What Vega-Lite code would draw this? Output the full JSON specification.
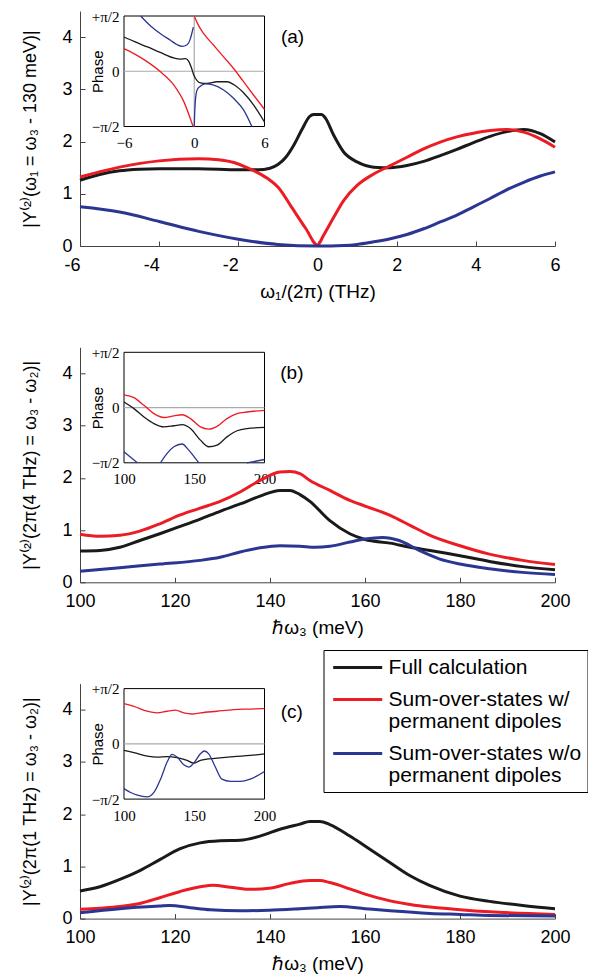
{
  "$schema": "https://vega.github.io/schema/vega-lite/v6.json",
  "background": "white",
  "padding": {"left": 21, "top": 9, "right": 0, "bottom": 0},
  "config": {
    "view": {"stroke": null},
    "font": "Liberation Sans",
    "axis": {"grid": false, "labelFont": "Liberation Sans", "titleFont": "Liberation Sans", "labelFontSize": 18, "titleFontSize": 18, "titleFontWeight": "normal", "labelColor": "black", "titleColor": "black", "domainColor": "#444444", "tickColor": "#444444", "labelFlush": false, "tickSize": -5, "labelPadding": 13, "labelOverlap": false},
    "axisX": {"labelPadding": 15, "titlePadding": 8, "titleFontSize": 19, "labelExpr": "replace(datum.label, '−', '-')"},
    "axisY": {"titlePadding": 22.5},
    "style": {"guide-label": {"lineHeight": 22}}
  },
  "datasets": {
    "mainA": [
      {"x": -6, "y": 1.26, "s": "Full calculation"}, {"x": -5.5, "y": 1.37, "s": "Full calculation"}, {"x": -5, "y": 1.44, "s": "Full calculation"}, {"x": -4.5, "y": 1.47, "s": "Full calculation"}, {"x": -4, "y": 1.48, "s": "Full calculation"}, {"x": -3, "y": 1.48, "s": "Full calculation"}, {"x": -2, "y": 1.46, "s": "Full calculation"}, {"x": -1.5, "y": 1.46, "s": "Full calculation"}, {"x": -1.2, "y": 1.49, "s": "Full calculation"}, {"x": -1, "y": 1.56, "s": "Full calculation"}, {"x": -0.8, "y": 1.7, "s": "Full calculation"}, {"x": -0.6, "y": 1.93, "s": "Full calculation"}, {"x": -0.4, "y": 2.22, "s": "Full calculation"}, {"x": -0.2, "y": 2.48, "s": "Full calculation"}, {"x": -0.1, "y": 2.52, "s": "Full calculation"}, {"x": 0.1, "y": 2.52, "s": "Full calculation"}, {"x": 0.2, "y": 2.45, "s": "Full calculation"}, {"x": 0.41, "y": 2.12, "s": "Full calculation"}, {"x": 0.66, "y": 1.8, "s": "Full calculation"}, {"x": 1, "y": 1.61, "s": "Full calculation"}, {"x": 1.42, "y": 1.51, "s": "Full calculation"}, {"x": 1.84, "y": 1.5, "s": "Full calculation"}, {"x": 2.26, "y": 1.54, "s": "Full calculation"}, {"x": 2.68, "y": 1.62, "s": "Full calculation"}, {"x": 3.1, "y": 1.73, "s": "Full calculation"}, {"x": 3.52, "y": 1.85, "s": "Full calculation"}, {"x": 3.94, "y": 1.98, "s": "Full calculation"}, {"x": 4.36, "y": 2.1, "s": "Full calculation"}, {"x": 4.79, "y": 2.19, "s": "Full calculation"}, {"x": 5.21, "y": 2.23, "s": "Full calculation"}, {"x": 5.63, "y": 2.15, "s": "Full calculation"}, {"x": 6, "y": 1.99, "s": "Full calculation"},
      {"x": -6, "y": 1.32, "s": "Sum-over-states w/ permanent dipoles"}, {"x": -5, "y": 1.51, "s": "Sum-over-states w/ permanent dipoles"}, {"x": -4, "y": 1.63, "s": "Sum-over-states w/ permanent dipoles"}, {"x": -3, "y": 1.67, "s": "Sum-over-states w/ permanent dipoles"}, {"x": -2.5, "y": 1.65, "s": "Sum-over-states w/ permanent dipoles"}, {"x": -2, "y": 1.57, "s": "Sum-over-states w/ permanent dipoles"}, {"x": -1.78, "y": 1.5, "s": "Sum-over-states w/ permanent dipoles"}, {"x": -1.5, "y": 1.4, "s": "Sum-over-states w/ permanent dipoles"}, {"x": -1.2, "y": 1.26, "s": "Sum-over-states w/ permanent dipoles"}, {"x": -1, "y": 1.13, "s": "Sum-over-states w/ permanent dipoles"}, {"x": -0.66, "y": 0.75, "s": "Sum-over-states w/ permanent dipoles"}, {"x": -0.3, "y": 0.34, "s": "Sum-over-states w/ permanent dipoles"}, {"x": 0, "y": 0.02, "s": "Sum-over-states w/ permanent dipoles"}, {"x": 0.15, "y": 0.2, "s": "Sum-over-states w/ permanent dipoles"}, {"x": 0.41, "y": 0.55, "s": "Sum-over-states w/ permanent dipoles"}, {"x": 0.66, "y": 0.87, "s": "Sum-over-states w/ permanent dipoles"}, {"x": 1, "y": 1.16, "s": "Sum-over-states w/ permanent dipoles"}, {"x": 1.42, "y": 1.38, "s": "Sum-over-states w/ permanent dipoles"}, {"x": 1.84, "y": 1.54, "s": "Sum-over-states w/ permanent dipoles"}, {"x": 2.26, "y": 1.7, "s": "Sum-over-states w/ permanent dipoles"}, {"x": 2.68, "y": 1.86, "s": "Sum-over-states w/ permanent dipoles"}, {"x": 3.1, "y": 1.99, "s": "Sum-over-states w/ permanent dipoles"}, {"x": 3.52, "y": 2.09, "s": "Sum-over-states w/ permanent dipoles"}, {"x": 3.94, "y": 2.16, "s": "Sum-over-states w/ permanent dipoles"}, {"x": 4.36, "y": 2.21, "s": "Sum-over-states w/ permanent dipoles"}, {"x": 4.79, "y": 2.23, "s": "Sum-over-states w/ permanent dipoles"}, {"x": 5.21, "y": 2.18, "s": "Sum-over-states w/ permanent dipoles"}, {"x": 5.63, "y": 2.05, "s": "Sum-over-states w/ permanent dipoles"}, {"x": 6, "y": 1.89, "s": "Sum-over-states w/ permanent dipoles"},
      {"x": -6, "y": 0.75, "s": "Sum-over-states w/o permanent dipoles"}, {"x": -5, "y": 0.65, "s": "Sum-over-states w/o permanent dipoles"}, {"x": -4, "y": 0.47, "s": "Sum-over-states w/o permanent dipoles"}, {"x": -3, "y": 0.28, "s": "Sum-over-states w/o permanent dipoles"}, {"x": -2, "y": 0.13, "s": "Sum-over-states w/o permanent dipoles"}, {"x": -1, "y": 0.03, "s": "Sum-over-states w/o permanent dipoles"}, {"x": 0, "y": 0, "s": "Sum-over-states w/o permanent dipoles"}, {"x": 0.66, "y": 0.01, "s": "Sum-over-states w/o permanent dipoles"}, {"x": 1, "y": 0.03, "s": "Sum-over-states w/o permanent dipoles"}, {"x": 1.42, "y": 0.08, "s": "Sum-over-states w/o permanent dipoles"}, {"x": 1.84, "y": 0.14, "s": "Sum-over-states w/o permanent dipoles"}, {"x": 2.26, "y": 0.22, "s": "Sum-over-states w/o permanent dipoles"}, {"x": 2.68, "y": 0.33, "s": "Sum-over-states w/o permanent dipoles"}, {"x": 3.1, "y": 0.46, "s": "Sum-over-states w/o permanent dipoles"}, {"x": 3.52, "y": 0.59, "s": "Sum-over-states w/o permanent dipoles"}, {"x": 3.94, "y": 0.75, "s": "Sum-over-states w/o permanent dipoles"}, {"x": 4.36, "y": 0.91, "s": "Sum-over-states w/o permanent dipoles"}, {"x": 4.79, "y": 1.08, "s": "Sum-over-states w/o permanent dipoles"}, {"x": 5.21, "y": 1.22, "s": "Sum-over-states w/o permanent dipoles"}, {"x": 5.63, "y": 1.34, "s": "Sum-over-states w/o permanent dipoles"}, {"x": 6, "y": 1.42, "s": "Sum-over-states w/o permanent dipoles"}
    ],
    "insetA": [
      {"x": -6, "p": 0.974, "s": "Full calculation", "seg": 0}, {"x": -5.15, "p": 0.848, "s": "Full calculation", "seg": 0}, {"x": -4, "p": 0.691, "s": "Full calculation", "seg": 0}, {"x": -2.9, "p": 0.534, "s": "Full calculation", "seg": 0}, {"x": -1.74, "p": 0.377, "s": "Full calculation", "seg": 0}, {"x": -1.18, "p": 0.346, "s": "Full calculation", "seg": 0}, {"x": -0.75, "p": 0.361, "s": "Full calculation", "seg": 0}, {"x": -0.47, "p": 0.283, "s": "Full calculation", "seg": 0}, {"x": -0.27, "p": 0.126, "s": "Full calculation", "seg": 0}, {"x": -0.04, "p": -0.11, "s": "Full calculation", "seg": 0}, {"x": 0.24, "p": -0.267, "s": "Full calculation", "seg": 0}, {"x": 0.52, "p": -0.33, "s": "Full calculation", "seg": 0}, {"x": 1.09, "p": -0.346, "s": "Full calculation", "seg": 0}, {"x": 1.94, "p": -0.298, "s": "Full calculation", "seg": 0}, {"x": 2.79, "p": -0.298, "s": "Full calculation", "seg": 0}, {"x": 3.36, "p": -0.377, "s": "Full calculation", "seg": 0}, {"x": 4.21, "p": -0.613, "s": "Full calculation", "seg": 0}, {"x": 5.06, "p": -0.958, "s": "Full calculation", "seg": 0}, {"x": 6, "p": -1.445, "s": "Full calculation", "seg": 0},
      {"x": -6, "p": 0.644, "s": "Sum-over-states w/ permanent dipoles", "seg": 1}, {"x": -5.15, "p": 0.503, "s": "Sum-over-states w/ permanent dipoles", "seg": 1}, {"x": -4, "p": 0.267, "s": "Sum-over-states w/ permanent dipoles", "seg": 1}, {"x": -2.88, "p": -0.016, "s": "Sum-over-states w/ permanent dipoles", "seg": 1}, {"x": -1.74, "p": -0.393, "s": "Sum-over-states w/ permanent dipoles", "seg": 1}, {"x": -0.89, "p": -0.864, "s": "Sum-over-states w/ permanent dipoles", "seg": 1}, {"x": -0.33, "p": -1.351, "s": "Sum-over-states w/ permanent dipoles", "seg": 1}, {"x": -0.1, "p": -1.5708, "s": "Sum-over-states w/ permanent dipoles", "seg": 1},
      {"x": 0, "p": 1.5708, "s": "Sum-over-states w/ permanent dipoles", "seg": 2}, {"x": 0.24, "p": 1.382, "s": "Sum-over-states w/ permanent dipoles", "seg": 2}, {"x": 0.81, "p": 1.068, "s": "Sum-over-states w/ permanent dipoles", "seg": 2}, {"x": 1.66, "p": 0.738, "s": "Sum-over-states w/ permanent dipoles", "seg": 2}, {"x": 2.51, "p": 0.408, "s": "Sum-over-states w/ permanent dipoles", "seg": 2}, {"x": 3.36, "p": 0.079, "s": "Sum-over-states w/ permanent dipoles", "seg": 2}, {"x": 4.21, "p": -0.298, "s": "Sum-over-states w/ permanent dipoles", "seg": 2}, {"x": 5.06, "p": -0.675, "s": "Sum-over-states w/ permanent dipoles", "seg": 2}, {"x": 6, "p": -1.084, "s": "Sum-over-states w/ permanent dipoles", "seg": 2},
      {"x": -4.58, "p": 1.5708, "s": "Sum-over-states w/o permanent dipoles", "seg": 3}, {"x": -3.73, "p": 1.288, "s": "Sum-over-states w/o permanent dipoles", "seg": 3}, {"x": -2.88, "p": 1.068, "s": "Sum-over-states w/o permanent dipoles", "seg": 3}, {"x": -2.03, "p": 0.88, "s": "Sum-over-states w/o permanent dipoles", "seg": 3}, {"x": -1.46, "p": 0.754, "s": "Sum-over-states w/o permanent dipoles", "seg": 3}, {"x": -1.03, "p": 0.707, "s": "Sum-over-states w/o permanent dipoles", "seg": 3}, {"x": -0.61, "p": 0.754, "s": "Sum-over-states w/o permanent dipoles", "seg": 3}, {"x": -0.33, "p": 0.927, "s": "Sum-over-states w/o permanent dipoles", "seg": 3}, {"x": -0.18, "p": 1.115, "s": "Sum-over-states w/o permanent dipoles", "seg": 3}, {"x": -0.08, "p": 1.257, "s": "Sum-over-states w/o permanent dipoles", "seg": 3},
      {"x": 0, "p": -1.5708, "s": "Sum-over-states w/o permanent dipoles", "seg": 4}, {"x": 0.03, "p": -1.25, "s": "Sum-over-states w/o permanent dipoles", "seg": 4}, {"x": 0.09, "p": -0.864, "s": "Sum-over-states w/o permanent dipoles", "seg": 4}, {"x": 0.24, "p": -0.534, "s": "Sum-over-states w/o permanent dipoles", "seg": 4}, {"x": 0.52, "p": -0.424, "s": "Sum-over-states w/o permanent dipoles", "seg": 4}, {"x": 0.95, "p": -0.361, "s": "Sum-over-states w/o permanent dipoles", "seg": 4}, {"x": 1.66, "p": -0.393, "s": "Sum-over-states w/o permanent dipoles", "seg": 4}, {"x": 2.51, "p": -0.534, "s": "Sum-over-states w/o permanent dipoles", "seg": 4}, {"x": 3.36, "p": -0.77, "s": "Sum-over-states w/o permanent dipoles", "seg": 4}, {"x": 4.21, "p": -1.1, "s": "Sum-over-states w/o permanent dipoles", "seg": 4}, {"x": 4.92, "p": -1.5708, "s": "Sum-over-states w/o permanent dipoles", "seg": 4}
    ],
    "mainB": [
      {"x": 100, "y": 0.6, "s": "Full calculation"}, {"x": 104.2, "y": 0.61, "s": "Full calculation"}, {"x": 108.4, "y": 0.67, "s": "Full calculation"}, {"x": 112.6, "y": 0.8, "s": "Full calculation"}, {"x": 116.8, "y": 0.93, "s": "Full calculation"}, {"x": 121.1, "y": 1.07, "s": "Full calculation"}, {"x": 125.3, "y": 1.21, "s": "Full calculation"}, {"x": 129.5, "y": 1.36, "s": "Full calculation"}, {"x": 133.7, "y": 1.5, "s": "Full calculation"}, {"x": 137.9, "y": 1.65, "s": "Full calculation"}, {"x": 142.1, "y": 1.76, "s": "Full calculation"}, {"x": 144.2, "y": 1.76, "s": "Full calculation"}, {"x": 146.3, "y": 1.68, "s": "Full calculation"}, {"x": 148.4, "y": 1.55, "s": "Full calculation"}, {"x": 152.6, "y": 1.18, "s": "Full calculation"}, {"x": 156.8, "y": 0.93, "s": "Full calculation"}, {"x": 160, "y": 0.82, "s": "Full calculation"}, {"x": 165.3, "y": 0.75, "s": "Full calculation"}, {"x": 169.5, "y": 0.67, "s": "Full calculation"}, {"x": 173.7, "y": 0.61, "s": "Full calculation"}, {"x": 180, "y": 0.51, "s": "Full calculation"}, {"x": 186.2, "y": 0.4, "s": "Full calculation"}, {"x": 193.2, "y": 0.3, "s": "Full calculation"}, {"x": 200, "y": 0.24, "s": "Full calculation"},
      {"x": 100, "y": 0.92, "s": "Sum-over-states w/ permanent dipoles"}, {"x": 104.2, "y": 0.88, "s": "Sum-over-states w/ permanent dipoles"}, {"x": 108.4, "y": 0.9, "s": "Sum-over-states w/ permanent dipoles"}, {"x": 112.6, "y": 0.98, "s": "Sum-over-states w/ permanent dipoles"}, {"x": 116.8, "y": 1.12, "s": "Sum-over-states w/ permanent dipoles"}, {"x": 121.1, "y": 1.29, "s": "Sum-over-states w/ permanent dipoles"}, {"x": 125.3, "y": 1.42, "s": "Sum-over-states w/ permanent dipoles"}, {"x": 129.5, "y": 1.55, "s": "Sum-over-states w/ permanent dipoles"}, {"x": 133.7, "y": 1.73, "s": "Sum-over-states w/ permanent dipoles"}, {"x": 137.9, "y": 1.95, "s": "Sum-over-states w/ permanent dipoles"}, {"x": 142.1, "y": 2.11, "s": "Sum-over-states w/ permanent dipoles"}, {"x": 144.2, "y": 2.12, "s": "Sum-over-states w/ permanent dipoles"}, {"x": 146.3, "y": 2.08, "s": "Sum-over-states w/ permanent dipoles"}, {"x": 148.4, "y": 1.95, "s": "Sum-over-states w/ permanent dipoles"}, {"x": 152.6, "y": 1.76, "s": "Sum-over-states w/ permanent dipoles"}, {"x": 156.8, "y": 1.57, "s": "Sum-over-states w/ permanent dipoles"}, {"x": 160, "y": 1.46, "s": "Sum-over-states w/ permanent dipoles"}, {"x": 165.3, "y": 1.28, "s": "Sum-over-states w/ permanent dipoles"}, {"x": 169.5, "y": 1.09, "s": "Sum-over-states w/ permanent dipoles"}, {"x": 173.7, "y": 0.9, "s": "Sum-over-states w/ permanent dipoles"}, {"x": 180, "y": 0.7, "s": "Sum-over-states w/ permanent dipoles"}, {"x": 186.2, "y": 0.54, "s": "Sum-over-states w/ permanent dipoles"}, {"x": 193.2, "y": 0.42, "s": "Sum-over-states w/ permanent dipoles"}, {"x": 200, "y": 0.34, "s": "Sum-over-states w/ permanent dipoles"},
      {"x": 100, "y": 0.21, "s": "Sum-over-states w/o permanent dipoles"}, {"x": 108.4, "y": 0.28, "s": "Sum-over-states w/o permanent dipoles"}, {"x": 116.8, "y": 0.35, "s": "Sum-over-states w/o permanent dipoles"}, {"x": 125.3, "y": 0.42, "s": "Sum-over-states w/o permanent dipoles"}, {"x": 129.5, "y": 0.48, "s": "Sum-over-states w/o permanent dipoles"}, {"x": 133.7, "y": 0.58, "s": "Sum-over-states w/o permanent dipoles"}, {"x": 137.9, "y": 0.66, "s": "Sum-over-states w/o permanent dipoles"}, {"x": 142.1, "y": 0.7, "s": "Sum-over-states w/o permanent dipoles"}, {"x": 146.3, "y": 0.69, "s": "Sum-over-states w/o permanent dipoles"}, {"x": 149.5, "y": 0.67, "s": "Sum-over-states w/o permanent dipoles"}, {"x": 152.6, "y": 0.69, "s": "Sum-over-states w/o permanent dipoles"}, {"x": 156.8, "y": 0.77, "s": "Sum-over-states w/o permanent dipoles"}, {"x": 160, "y": 0.83, "s": "Sum-over-states w/o permanent dipoles"}, {"x": 163.7, "y": 0.86, "s": "Sum-over-states w/o permanent dipoles"}, {"x": 167.2, "y": 0.8, "s": "Sum-over-states w/o permanent dipoles"}, {"x": 171.4, "y": 0.61, "s": "Sum-over-states w/o permanent dipoles"}, {"x": 175.6, "y": 0.45, "s": "Sum-over-states w/o permanent dipoles"}, {"x": 180, "y": 0.35, "s": "Sum-over-states w/o permanent dipoles"}, {"x": 186.2, "y": 0.26, "s": "Sum-over-states w/o permanent dipoles"}, {"x": 193.2, "y": 0.19, "s": "Sum-over-states w/o permanent dipoles"}, {"x": 200, "y": 0.15, "s": "Sum-over-states w/o permanent dipoles"}
    ],
    "insetB": [
      {"x": 100, "p": 0.157, "s": "Full calculation", "seg": 0}, {"x": 107.1, "p": -0.031, "s": "Full calculation", "seg": 0}, {"x": 114.2, "p": -0.267, "s": "Full calculation", "seg": 0}, {"x": 121.3, "p": -0.456, "s": "Full calculation", "seg": 0}, {"x": 128.4, "p": -0.55, "s": "Full calculation", "seg": 0}, {"x": 135.5, "p": -0.518, "s": "Full calculation", "seg": 0}, {"x": 141.4, "p": -0.487, "s": "Full calculation", "seg": 0}, {"x": 147.3, "p": -0.597, "s": "Full calculation", "seg": 0}, {"x": 154.4, "p": -0.927, "s": "Full calculation", "seg": 0}, {"x": 160.3, "p": -1.115, "s": "Full calculation", "seg": 0}, {"x": 166.2, "p": -1.068, "s": "Full calculation", "seg": 0}, {"x": 173.3, "p": -0.833, "s": "Full calculation", "seg": 0}, {"x": 180.4, "p": -0.66, "s": "Full calculation", "seg": 0}, {"x": 187.5, "p": -0.597, "s": "Full calculation", "seg": 0}, {"x": 200, "p": -0.565, "s": "Full calculation", "seg": 0},
      {"x": 100, "p": 0.361, "s": "Sum-over-states w/ permanent dipoles", "seg": 1}, {"x": 107.1, "p": 0.283, "s": "Sum-over-states w/ permanent dipoles", "seg": 1}, {"x": 114.2, "p": 0.063, "s": "Sum-over-states w/ permanent dipoles", "seg": 1}, {"x": 121.3, "p": -0.173, "s": "Sum-over-states w/ permanent dipoles", "seg": 1}, {"x": 128.4, "p": -0.283, "s": "Sum-over-states w/ permanent dipoles", "seg": 1}, {"x": 135.5, "p": -0.236, "s": "Sum-over-states w/ permanent dipoles", "seg": 1}, {"x": 141.4, "p": -0.204, "s": "Sum-over-states w/ permanent dipoles", "seg": 1}, {"x": 147.3, "p": -0.314, "s": "Sum-over-states w/ permanent dipoles", "seg": 1}, {"x": 154.4, "p": -0.55, "s": "Sum-over-states w/ permanent dipoles", "seg": 1}, {"x": 160.3, "p": -0.613, "s": "Sum-over-states w/ permanent dipoles", "seg": 1}, {"x": 166.2, "p": -0.534, "s": "Sum-over-states w/ permanent dipoles", "seg": 1}, {"x": 173.3, "p": -0.314, "s": "Sum-over-states w/ permanent dipoles", "seg": 1}, {"x": 180.4, "p": -0.173, "s": "Sum-over-states w/ permanent dipoles", "seg": 1}, {"x": 187.5, "p": -0.126, "s": "Sum-over-states w/ permanent dipoles", "seg": 1}, {"x": 200, "p": -0.079, "s": "Sum-over-states w/ permanent dipoles", "seg": 1},
      {"x": 100, "p": -1.257, "s": "Sum-over-states w/o permanent dipoles", "seg": 2}, {"x": 104.7, "p": -1.414, "s": "Sum-over-states w/o permanent dipoles", "seg": 2}, {"x": 109.5, "p": -1.5708, "s": "Sum-over-states w/o permanent dipoles", "seg": 2},
      {"x": 126, "p": -1.5708, "s": "Sum-over-states w/o permanent dipoles", "seg": 3}, {"x": 130.7, "p": -1.304, "s": "Sum-over-states w/o permanent dipoles", "seg": 3}, {"x": 135.5, "p": -1.115, "s": "Sum-over-states w/o permanent dipoles", "seg": 3}, {"x": 141.4, "p": -1.037, "s": "Sum-over-states w/o permanent dipoles", "seg": 3}, {"x": 146.1, "p": -1.21, "s": "Sum-over-states w/o permanent dipoles", "seg": 3}, {"x": 150.8, "p": -1.445, "s": "Sum-over-states w/o permanent dipoles", "seg": 3}, {"x": 153.2, "p": -1.5708, "s": "Sum-over-states w/o permanent dipoles", "seg": 3},
      {"x": 187.5, "p": -1.5708, "s": "Sum-over-states w/o permanent dipoles", "seg": 4}, {"x": 200, "p": -1.477, "s": "Sum-over-states w/o permanent dipoles", "seg": 4}
    ],
    "mainC": [
      {"x": 100, "y": 0.53, "s": "Full calculation"}, {"x": 104.2, "y": 0.61, "s": "Full calculation"}, {"x": 108.4, "y": 0.75, "s": "Full calculation"}, {"x": 112.6, "y": 0.92, "s": "Full calculation"}, {"x": 116.8, "y": 1.13, "s": "Full calculation"}, {"x": 121.1, "y": 1.34, "s": "Full calculation"}, {"x": 125.3, "y": 1.45, "s": "Full calculation"}, {"x": 129.5, "y": 1.49, "s": "Full calculation"}, {"x": 133.7, "y": 1.5, "s": "Full calculation"}, {"x": 137.9, "y": 1.58, "s": "Full calculation"}, {"x": 142.1, "y": 1.71, "s": "Full calculation"}, {"x": 146.3, "y": 1.81, "s": "Full calculation"}, {"x": 148.4, "y": 1.86, "s": "Full calculation"}, {"x": 150.5, "y": 1.86, "s": "Full calculation"}, {"x": 152.6, "y": 1.8, "s": "Full calculation"}, {"x": 156.8, "y": 1.58, "s": "Full calculation"}, {"x": 160, "y": 1.39, "s": "Full calculation"}, {"x": 165.3, "y": 1.07, "s": "Full calculation"}, {"x": 169.5, "y": 0.82, "s": "Full calculation"}, {"x": 173.7, "y": 0.63, "s": "Full calculation"}, {"x": 180, "y": 0.43, "s": "Full calculation"}, {"x": 186.2, "y": 0.33, "s": "Full calculation"}, {"x": 193.2, "y": 0.25, "s": "Full calculation"}, {"x": 200, "y": 0.19, "s": "Full calculation"},
      {"x": 100, "y": 0.18, "s": "Sum-over-states w/ permanent dipoles"}, {"x": 104.2, "y": 0.2, "s": "Sum-over-states w/ permanent dipoles"}, {"x": 108.4, "y": 0.23, "s": "Sum-over-states w/ permanent dipoles"}, {"x": 112.6, "y": 0.29, "s": "Sum-over-states w/ permanent dipoles"}, {"x": 116.8, "y": 0.4, "s": "Sum-over-states w/ permanent dipoles"}, {"x": 121.1, "y": 0.52, "s": "Sum-over-states w/ permanent dipoles"}, {"x": 125.3, "y": 0.61, "s": "Sum-over-states w/ permanent dipoles"}, {"x": 128.1, "y": 0.64, "s": "Sum-over-states w/ permanent dipoles"}, {"x": 131.7, "y": 0.6, "s": "Sum-over-states w/ permanent dipoles"}, {"x": 135.6, "y": 0.56, "s": "Sum-over-states w/ permanent dipoles"}, {"x": 139.8, "y": 0.58, "s": "Sum-over-states w/ permanent dipoles"}, {"x": 144, "y": 0.67, "s": "Sum-over-states w/ permanent dipoles"}, {"x": 148.4, "y": 0.73, "s": "Sum-over-states w/ permanent dipoles"}, {"x": 150.5, "y": 0.73, "s": "Sum-over-states w/ permanent dipoles"}, {"x": 152.6, "y": 0.69, "s": "Sum-over-states w/ permanent dipoles"}, {"x": 156.8, "y": 0.57, "s": "Sum-over-states w/ permanent dipoles"}, {"x": 160, "y": 0.47, "s": "Sum-over-states w/ permanent dipoles"}, {"x": 165.3, "y": 0.34, "s": "Sum-over-states w/ permanent dipoles"}, {"x": 169.5, "y": 0.27, "s": "Sum-over-states w/ permanent dipoles"}, {"x": 173.7, "y": 0.22, "s": "Sum-over-states w/ permanent dipoles"}, {"x": 180, "y": 0.17, "s": "Sum-over-states w/ permanent dipoles"}, {"x": 186.2, "y": 0.13, "s": "Sum-over-states w/ permanent dipoles"}, {"x": 200, "y": 0.08, "s": "Sum-over-states w/ permanent dipoles"},
      {"x": 100, "y": 0.11, "s": "Sum-over-states w/o permanent dipoles"}, {"x": 108.4, "y": 0.19, "s": "Sum-over-states w/o permanent dipoles"}, {"x": 116.8, "y": 0.24, "s": "Sum-over-states w/o permanent dipoles"}, {"x": 118.9, "y": 0.25, "s": "Sum-over-states w/o permanent dipoles"}, {"x": 123.2, "y": 0.21, "s": "Sum-over-states w/o permanent dipoles"}, {"x": 127.4, "y": 0.17, "s": "Sum-over-states w/o permanent dipoles"}, {"x": 133.7, "y": 0.15, "s": "Sum-over-states w/o permanent dipoles"}, {"x": 139.8, "y": 0.16, "s": "Sum-over-states w/o permanent dipoles"}, {"x": 146.3, "y": 0.19, "s": "Sum-over-states w/o permanent dipoles"}, {"x": 150, "y": 0.21, "s": "Sum-over-states w/o permanent dipoles"}, {"x": 154.7, "y": 0.23, "s": "Sum-over-states w/o permanent dipoles"}, {"x": 160, "y": 0.19, "s": "Sum-over-states w/o permanent dipoles"}, {"x": 165.3, "y": 0.15, "s": "Sum-over-states w/o permanent dipoles"}, {"x": 173.7, "y": 0.1, "s": "Sum-over-states w/o permanent dipoles"}, {"x": 180, "y": 0.08, "s": "Sum-over-states w/o permanent dipoles"}, {"x": 186.2, "y": 0.06, "s": "Sum-over-states w/o permanent dipoles"}, {"x": 200, "y": 0.05, "s": "Sum-over-states w/o permanent dipoles"}
    ],
    "insetC": [
      {"x": 100, "p": -0.188, "s": "Full calculation", "seg": 0}, {"x": 107.1, "p": -0.251, "s": "Full calculation", "seg": 0}, {"x": 116.5, "p": -0.346, "s": "Full calculation", "seg": 0}, {"x": 123.6, "p": -0.377, "s": "Full calculation", "seg": 0}, {"x": 130.7, "p": -0.361, "s": "Full calculation", "seg": 0}, {"x": 137.8, "p": -0.393, "s": "Full calculation", "seg": 0}, {"x": 144.9, "p": -0.471, "s": "Full calculation", "seg": 0}, {"x": 149.6, "p": -0.55, "s": "Full calculation", "seg": 0}, {"x": 154.4, "p": -0.471, "s": "Full calculation", "seg": 0}, {"x": 166.2, "p": -0.408, "s": "Full calculation", "seg": 0}, {"x": 178, "p": -0.361, "s": "Full calculation", "seg": 0}, {"x": 189.8, "p": -0.33, "s": "Full calculation", "seg": 0}, {"x": 200, "p": -0.283, "s": "Full calculation", "seg": 0},
      {"x": 100, "p": 1.147, "s": "Sum-over-states w/ permanent dipoles", "seg": 1}, {"x": 107.1, "p": 1.068, "s": "Sum-over-states w/ permanent dipoles", "seg": 1}, {"x": 116.5, "p": 0.927, "s": "Sum-over-states w/ permanent dipoles", "seg": 1}, {"x": 123.6, "p": 0.88, "s": "Sum-over-states w/ permanent dipoles", "seg": 1}, {"x": 130.7, "p": 0.927, "s": "Sum-over-states w/ permanent dipoles", "seg": 1}, {"x": 136.6, "p": 0.958, "s": "Sum-over-states w/ permanent dipoles", "seg": 1}, {"x": 142.6, "p": 0.88, "s": "Sum-over-states w/ permanent dipoles", "seg": 1}, {"x": 148.5, "p": 0.848, "s": "Sum-over-states w/ permanent dipoles", "seg": 1}, {"x": 154.4, "p": 0.88, "s": "Sum-over-states w/ permanent dipoles", "seg": 1}, {"x": 166.2, "p": 0.927, "s": "Sum-over-states w/ permanent dipoles", "seg": 1}, {"x": 178, "p": 0.974, "s": "Sum-over-states w/ permanent dipoles", "seg": 1}, {"x": 189.8, "p": 0.99, "s": "Sum-over-states w/ permanent dipoles", "seg": 1}, {"x": 200, "p": 1.005, "s": "Sum-over-states w/ permanent dipoles", "seg": 1},
      {"x": 100, "p": -1.272, "s": "Sum-over-states w/o permanent dipoles", "seg": 2}, {"x": 104.7, "p": -1.382, "s": "Sum-over-states w/o permanent dipoles", "seg": 2}, {"x": 109.5, "p": -1.461, "s": "Sum-over-states w/o permanent dipoles", "seg": 2}, {"x": 116.5, "p": -1.508, "s": "Sum-over-states w/o permanent dipoles", "seg": 2}, {"x": 121.3, "p": -1.382, "s": "Sum-over-states w/o permanent dipoles", "seg": 2}, {"x": 126, "p": -1.005, "s": "Sum-over-states w/o permanent dipoles", "seg": 2}, {"x": 130.7, "p": -0.518, "s": "Sum-over-states w/o permanent dipoles", "seg": 2}, {"x": 134.2, "p": -0.298, "s": "Sum-over-states w/o permanent dipoles", "seg": 2}, {"x": 137.8, "p": -0.377, "s": "Sum-over-states w/o permanent dipoles", "seg": 2}, {"x": 142.6, "p": -0.597, "s": "Sum-over-states w/o permanent dipoles", "seg": 2}, {"x": 146.1, "p": -0.66, "s": "Sum-over-states w/o permanent dipoles", "seg": 2}, {"x": 149.6, "p": -0.55, "s": "Sum-over-states w/o permanent dipoles", "seg": 2}, {"x": 154.4, "p": -0.283, "s": "Sum-over-states w/o permanent dipoles", "seg": 2}, {"x": 157.2, "p": -0.204, "s": "Sum-over-states w/o permanent dipoles", "seg": 2}, {"x": 160.3, "p": -0.283, "s": "Sum-over-states w/o permanent dipoles", "seg": 2}, {"x": 165, "p": -0.66, "s": "Sum-over-states w/o permanent dipoles", "seg": 2}, {"x": 169.7, "p": -1.005, "s": "Sum-over-states w/o permanent dipoles", "seg": 2}, {"x": 175.7, "p": -1.068, "s": "Sum-over-states w/o permanent dipoles", "seg": 2}, {"x": 182.7, "p": -1.068, "s": "Sum-over-states w/o permanent dipoles", "seg": 2}, {"x": 189.8, "p": -1.005, "s": "Sum-over-states w/o permanent dipoles", "seg": 2}, {"x": 200, "p": -0.785, "s": "Sum-over-states w/o permanent dipoles", "seg": 2}
    ]
  },
  "vconcat": [
    {
      "width": 475, "height": 235,
      "resolve": {"scale": {"x": "independent", "y": "independent"}, "axis": {"x": "independent", "y": "independent"}},
      "layer": [
        {
          "layer": [
            {"data": {"name": "mainA"}, "mark": {"type": "line", "strokeWidth": 3, "interpolate": "monotone"},
             "encoding": {
               "x": {"field": "x", "type": "quantitative", "scale": {"domain": [-6, 6], "nice": false}, "axis": {"title": "ω₁/(2π) (THz)", "values": [-6, -4, -2, 0, 2, 4, 6], "labelAlign": {"condition": {"test": "datum.value < 0", "value": "right"}, "value": "center"}}},
               "y": {"field": "y", "type": "quantitative", "scale": {"domain": [0, 4.5], "nice": false}, "axis": {"title": "|Y⁽²⁾(ω₁ = ω₃ - 130 meV)|", "values": [0, 1, 2, 3, 4]}},
               "color": {"field": "s", "type": "nominal", "scale": {"domain": ["Full calculation", "Sum-over-states w/ permanent dipoles", "Sum-over-states w/o permanent dipoles"], "range": ["#1a1a1a", "#ec1c24", "#2b3592"]}, "legend": null}
             }},
            {"data": {"values": [{"x": -0.63, "y": 4.0, "t": "(a)"}]}, "mark": {"type": "text", "fontSize": 19, "font": "Liberation Sans", "color": "black"},
             "encoding": {"x": {"field": "x", "type": "quantitative"}, "y": {"field": "y", "type": "quantitative"}, "text": {"field": "t"}}}
          ]
        },
        {
          "layer": [
            {"data": {"values": [{"x": -6, "x2": 6, "y": -1.5708, "y2": 1.5708}]}, "mark": {"type": "rect", "fill": "white", "stroke": "black", "strokeWidth": 1},
             "encoding": {
               "x": {"field": "x", "type": "quantitative", "scale": {"domain": [-6, 6], "range": [44, 184.5], "nice": false, "zero": false}, "axis": {"orient": "bottom", "offset": -119.5, "values": [-6, 0, 6], "ticks": false, "domain": false, "labelFont": "Liberation Serif", "labelFontSize": 15, "labelPadding": 9, "title": null, "labelExpr": "datum.label"}},
               "x2": {"field": "x2"},
               "y": {"field": "y", "type": "quantitative", "scale": {"domain": [-1.5708, 1.5708], "range": [115.5, 5], "nice": false, "zero": false}, "axis": {"orient": "left", "offset": -44, "values": [-1.5708, 0, 1.5708], "ticks": false, "domain": false, "labelFont": "Liberation Serif", "labelFontSize": 15, "labelPadding": 5, "labelExpr": "datum.value > 0.1 ? '+π/2' : (datum.value < -0.1 ? '−π/2' : '0')", "title": "Phase", "titleFontSize": 15, "titlePadding": -14}},
               "y2": {"field": "y2"}
             }},
            {"data": {"values": [{"x": -6, "x2": 6, "y": 0, "y2": 0}, {"x": 0, "x2": 0, "y": -1.5708, "y2": 1.5708}]}, "mark": {"type": "rule", "color": "#aaaaaa", "strokeWidth": 1.2},
             "encoding": {"x": {"field": "x", "type": "quantitative"}, "x2": {"field": "x2"}, "y": {"field": "y", "type": "quantitative"}, "y2": {"field": "y2"}}},
            {"data": {"name": "insetA"}, "mark": {"type": "line", "strokeWidth": 1.3, "interpolate": "monotone"},
             "encoding": {"x": {"field": "x", "type": "quantitative"}, "y": {"field": "p", "type": "quantitative"}, "detail": {"field": "seg"},
               "color": {"field": "s", "type": "nominal", "scale": {"domain": ["Full calculation", "Sum-over-states w/ permanent dipoles", "Sum-over-states w/o permanent dipoles"], "range": ["#1a1a1a", "#ec1c24", "#2b3592"]}, "legend": null}}}
          ]
        }
      ]
    },
    {
      "width": 475, "height": 235,
      "resolve": {"scale": {"x": "independent", "y": "independent"}, "axis": {"x": "independent", "y": "independent"}},
      "layer": [
        {
          "layer": [
            {"data": {"name": "mainB"}, "mark": {"type": "line", "strokeWidth": 3, "interpolate": "monotone"},
             "encoding": {
               "x": {"field": "x", "type": "quantitative", "scale": {"domain": [100, 200], "nice": false, "zero": false}, "axis": {"title": "ℏω₃ (meV)", "values": [100, 120, 140, 160, 180, 200]}},
               "y": {"field": "y", "type": "quantitative", "scale": {"domain": [0, 4.5], "nice": false}, "axis": {"title": "|Y⁽²⁾(2π(4 THz) = ω₃ - ω₂)|", "values": [0, 1, 2, 3, 4]}},
               "color": {"field": "s", "type": "nominal", "scale": {"domain": ["Full calculation", "Sum-over-states w/ permanent dipoles", "Sum-over-states w/o permanent dipoles"], "range": ["#1a1a1a", "#ec1c24", "#2b3592"]}, "legend": null}
             }},
            {"data": {"values": [{"x": 144.6, "y": 4.0, "t": "(b)"}]}, "mark": {"type": "text", "fontSize": 19, "font": "Liberation Sans", "color": "black"},
             "encoding": {"x": {"field": "x", "type": "quantitative"}, "y": {"field": "y", "type": "quantitative"}, "text": {"field": "t"}}}
          ]
        },
        {
          "layer": [
            {"data": {"values": [{"x": 100, "x2": 200, "y": -1.5708, "y2": 1.5708}]}, "mark": {"type": "rect", "fill": "white", "stroke": "black", "strokeWidth": 1},
             "encoding": {
               "x": {"field": "x", "type": "quantitative", "scale": {"domain": [100, 200], "range": [44, 184.5], "nice": false, "zero": false}, "axis": {"orient": "bottom", "offset": -119.5, "values": [100, 150, 200], "ticks": false, "domain": false, "labelFont": "Liberation Serif", "labelFontSize": 15, "labelPadding": 9, "title": null, "labelExpr": "datum.label"}},
               "x2": {"field": "x2"},
               "y": {"field": "y", "type": "quantitative", "scale": {"domain": [-1.5708, 1.5708], "range": [115.5, 5], "nice": false, "zero": false}, "axis": {"orient": "left", "offset": -44, "values": [-1.5708, 0, 1.5708], "ticks": false, "domain": false, "labelFont": "Liberation Serif", "labelFontSize": 15, "labelPadding": 5, "labelExpr": "datum.value > 0.1 ? '+π/2' : (datum.value < -0.1 ? '−π/2' : '0')", "title": "Phase", "titleFontSize": 15, "titlePadding": -14}},
               "y2": {"field": "y2"}
             }},
            {"data": {"values": [{"x": 100, "x2": 200, "y": 0, "y2": 0}]}, "mark": {"type": "rule", "color": "#aaaaaa", "strokeWidth": 1.2},
             "encoding": {"x": {"field": "x", "type": "quantitative"}, "x2": {"field": "x2"}, "y": {"field": "y", "type": "quantitative"}, "y2": {"field": "y2"}}},
            {"data": {"name": "insetB"}, "mark": {"type": "line", "strokeWidth": 1.3, "interpolate": "monotone"},
             "encoding": {"x": {"field": "x", "type": "quantitative"}, "y": {"field": "p", "type": "quantitative"}, "detail": {"field": "seg"},
               "color": {"field": "s", "type": "nominal", "scale": {"domain": ["Full calculation", "Sum-over-states w/ permanent dipoles", "Sum-over-states w/o permanent dipoles"], "range": ["#1a1a1a", "#ec1c24", "#2b3592"]}, "legend": null}}}
          ]
        }
      ]
    },
    {
      "width": 475, "height": 235,
      "resolve": {"scale": {"x": "independent", "y": "independent"}, "axis": {"x": "independent", "y": "independent"}},
      "layer": [
        {
          "layer": [
            {"data": {"name": "mainC"}, "mark": {"type": "line", "strokeWidth": 3, "interpolate": "monotone"},
             "encoding": {
               "x": {"field": "x", "type": "quantitative", "scale": {"domain": [100, 200], "nice": false, "zero": false}, "axis": {"title": "ℏω₃ (meV)", "values": [100, 120, 140, 160, 180, 200]}},
               "y": {"field": "y", "type": "quantitative", "scale": {"domain": [0, 4.5], "nice": false}, "axis": {"title": "|Y⁽²⁾(2π(1 THz) = ω₃ - ω₂)|", "values": [0, 1, 2, 3, 4]}},
               "color": {"field": "s", "type": "nominal", "scale": {"domain": ["Full calculation", "Sum-over-states w/ permanent dipoles", "Sum-over-states w/o permanent dipoles"], "range": ["#1a1a1a", "#ec1c24", "#2b3592"]},
                 "legend": {"orient": "none", "legendX": 243.5, "legendY": -33.6, "title": null, "symbolType": "M-2.5,0H2.5", "symbolSize": 384, "symbolOffset": 16.7, "symbolStrokeWidth": 3, "labelFont": "Liberation Sans", "labelFontSize": 21, "labelColor": "black", "strokeColor": "black", "fillColor": "white", "padding": 6, "rowPadding": 10, "labelOffset": 19.4, "labelLimit": 400,
                   "labelExpr": "indexof(datum.label, ' permanent') > 0 ? [substring(datum.label, 0, indexof(datum.label, ' permanent')), 'permanent dipoles'] : datum.label"}}
             }},
            {"data": {"values": [{"x": 144.6, "y": 3.96, "t": "(c)"}]}, "mark": {"type": "text", "fontSize": 19, "font": "Liberation Sans", "color": "black"},
             "encoding": {"x": {"field": "x", "type": "quantitative"}, "y": {"field": "y", "type": "quantitative"}, "text": {"field": "t"}}}
          ]
        },
        {
          "layer": [
            {"data": {"values": [{"x": 100, "x2": 200, "y": -1.5708, "y2": 1.5708}]}, "mark": {"type": "rect", "fill": "white", "stroke": "black", "strokeWidth": 1},
             "encoding": {
               "x": {"field": "x", "type": "quantitative", "scale": {"domain": [100, 200], "range": [44, 184.5], "nice": false, "zero": false}, "axis": {"orient": "bottom", "offset": -119.5, "values": [100, 150, 200], "ticks": false, "domain": false, "labelFont": "Liberation Serif", "labelFontSize": 15, "labelPadding": 9, "title": null, "labelExpr": "datum.label"}},
               "x2": {"field": "x2"},
               "y": {"field": "y", "type": "quantitative", "scale": {"domain": [-1.5708, 1.5708], "range": [115.5, 5], "nice": false, "zero": false}, "axis": {"orient": "left", "offset": -44, "values": [-1.5708, 0, 1.5708], "ticks": false, "domain": false, "labelFont": "Liberation Serif", "labelFontSize": 15, "labelPadding": 5, "labelExpr": "datum.value > 0.1 ? '+π/2' : (datum.value < -0.1 ? '−π/2' : '0')", "title": "Phase", "titleFontSize": 15, "titlePadding": -14}},
               "y2": {"field": "y2"}
             }},
            {"data": {"values": [{"x": 100, "x2": 200, "y": 0, "y2": 0}]}, "mark": {"type": "rule", "color": "#aaaaaa", "strokeWidth": 1.2},
             "encoding": {"x": {"field": "x", "type": "quantitative"}, "x2": {"field": "x2"}, "y": {"field": "y", "type": "quantitative"}, "y2": {"field": "y2"}}},
            {"data": {"name": "insetC"}, "mark": {"type": "line", "strokeWidth": 1.3, "interpolate": "monotone"},
             "encoding": {"x": {"field": "x", "type": "quantitative"}, "y": {"field": "p", "type": "quantitative"}, "detail": {"field": "seg"},
               "color": {"field": "s", "type": "nominal", "scale": {"domain": ["Full calculation", "Sum-over-states w/ permanent dipoles", "Sum-over-states w/o permanent dipoles"], "range": ["#1a1a1a", "#ec1c24", "#2b3592"]}, "legend": null}}}
          ]
        }
      ]
    }
  ],
  "spacing": 101.3,
  "bounds": "flush",
  "resolve": {"scale": {"color": "independent"}}
}
